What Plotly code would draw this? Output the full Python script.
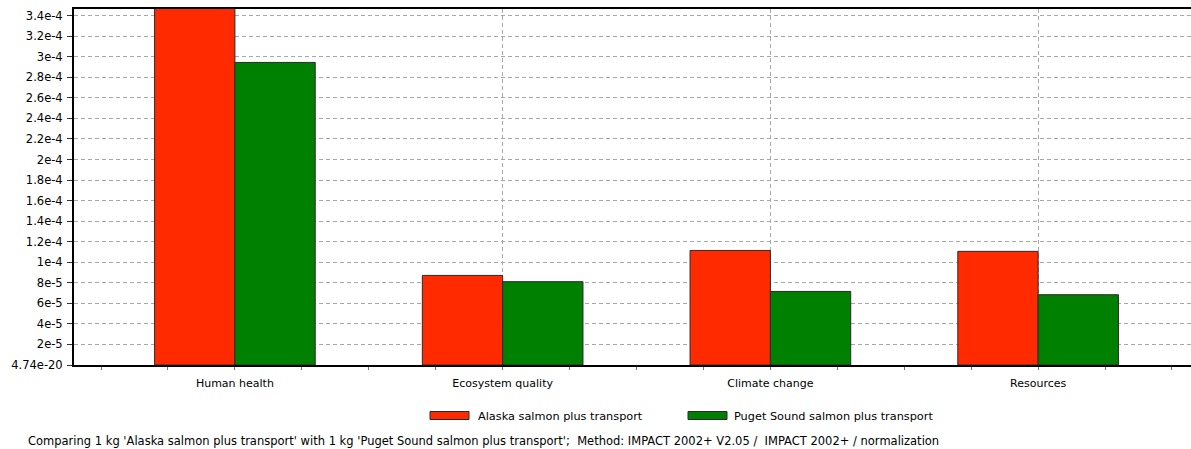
import plotly.graph_objects as go

categories = ["Human health", "Ecosystem quality", "Climate change", "Resources"]
series_names = ["Alaska salmon plus transport", "Puget Sound salmon plus transport"]
alaska = [3.47e-4, 8.72e-5, 1.115e-4, 1.106e-4]
puget = [2.945e-4, 8.11e-5, 7.16e-5, 6.84e-5]
y_tick_vals = [4.74e-20, 2e-5, 4e-5, 6e-5, 8e-5, 1e-4, 1.2e-4, 1.4e-4, 1.6e-4,
               1.8e-4, 2e-4, 2.2e-4, 2.4e-4, 2.6e-4, 2.8e-4, 3e-4, 3.2e-4, 3.4e-4]
y_tick_text = ["4.74e-20", "2e-5", "4e-5", "6e-5", "8e-5", "1e-4", "1.2e-4", "1.4e-4",
               "1.6e-4", "1.8e-4", "2e-4", "2.2e-4", "2.4e-4", "2.6e-4", "2.8e-4",
               "3e-4", "3.2e-4", "3.4e-4"]
footer = ("Comparing 1 kg 'Alaska salmon plus transport' with 1 kg 'Puget Sound salmon plus transport';"
          "  Method: IMPACT 2002+ V2.05 /  IMPACT 2002+ / normalization")
colors = ["#FF2A00", "#008000"]

FONT = "DejaVu Sans"
W, H = 1191, 449
L, R, T, B = 74, 0, 9, 84
pw, ph = W - L - R, H - T - B

xpos = list(range(len(categories)))

fig = go.Figure()
for name, vals, col in zip(series_names, [alaska, puget], colors):
    fig.add_trace(go.Bar(
        x=xpos, y=vals, name=name,
        marker=dict(color=col, line=dict(color="#2a2a2a", width=1)),
        showlegend=False,
    ))

fig.update_layout(
    width=W, height=H,
    margin=dict(l=L, r=R, t=T, b=B, pad=0),
    paper_bgcolor="white", plot_bgcolor="white",
    barmode="group", bargap=0.4, bargroupgap=0,
    font=dict(family=FONT, size=11, color="#000000"),
    showlegend=False,
)

fig.update_xaxes(
    range=[-0.601, 3.571],
    tickmode="array", tickvals=xpos, ticktext=categories,
    ticks="outside", ticklen=3, tickcolor="#777777",
    ticklabelstandoff=4,
    showgrid=True, gridcolor="#a8a8a8", griddash="4px,3px", gridwidth=1,
    showline=True, linecolor="#000000", linewidth=2, mirror=True,
    zeroline=False,
    minor=dict(ticks="outside", ticklen=3, tickcolor="#777777", tick0=0, dtick=0.25, showgrid=False),
    tickfont=dict(family=FONT, size=11),
)
fig.update_yaxes(
    range=[0, 3.465e-4],
    tickmode="array", tickvals=y_tick_vals, ticktext=y_tick_text,
    ticks="outside", ticklen=5, tickcolor="#333333",
    ticklabelstandoff=2,
    showgrid=True, gridcolor="#a8a8a8", griddash="4px,3px", gridwidth=1,
    showline=True, linecolor="#000000", linewidth=2,
    zeroline=False,
    tickfont=dict(family=FONT, size=11.5),
)

def px_x(px):
    return (px - L) / pw

def px_y(py):
    return (H - B - py) / ph

# manual legend (wide swatches as in the original)
legend_items = [(430, 469, 476), (688, 727, 732)]
for (x0, x1, tx), name, col in zip(legend_items, series_names, colors):
    fig.add_shape(type="rect", xref="paper", yref="paper",
                  x0=px_x(x0), x1=px_x(x1), y0=px_y(419.5), y1=px_y(411.5),
                  fillcolor=col, line=dict(color="#2a2a2a", width=1))
    fig.add_annotation(xref="paper", yref="paper", x=px_x(tx), y=px_y(416),
                       text=name, showarrow=False, xanchor="left", yanchor="middle",
                       font=dict(family=FONT, size=11.3, color="#000000"))

fig.add_annotation(xref="paper", yref="paper", x=px_x(26), y=px_y(441),
                   text=footer, showarrow=False, xanchor="left", yanchor="middle",
                   font=dict(family=FONT, size=11.5, color="#000000"))

fig.write_html("out.html",
               config={"displayModeBar": False},
               post_script="document.body.style.margin='0';document.body.style.overflow='hidden';")
